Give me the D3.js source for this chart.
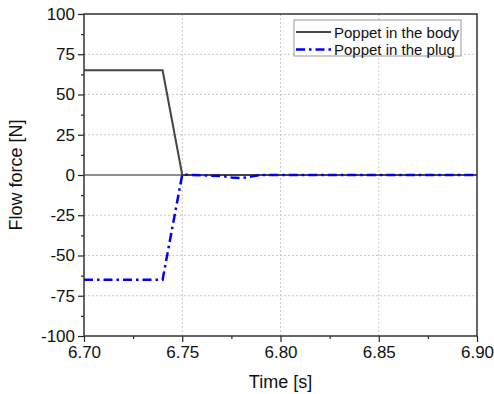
<!DOCTYPE html>
<html><head><meta charset="utf-8">
<script src="https://d3js.org/d3.v7.min.js"></script>
<style>body{margin:0;background:#fff}svg{display:block}</style>
</head><body>
<script>
const seriesNames = ["Poppet in the body", "Poppet in the plug"];
const bodyTime = [6.70, 6.74, 6.75, 6.90];
const bodyForce = [65, 65, 0, 0];
const plugTime = [6.70, 6.74, 6.75, 6.76, 6.77, 6.775, 6.78, 6.785, 6.79, 6.90];
const plugForce = [-65, -65, 0.3, -0.2, -0.6, -1.5, -2.0, -1.0, 0, 0];
const xTicks = [6.70, 6.75, 6.80, 6.85, 6.90];
const yTicks = [-100, -75, -50, -25, 0, 25, 50, 75, 100];

const W = 494, H = 394;
const m = {l: 84, r: 17, t: 14, b: 58};
const svg = d3.select("body").append("svg").attr("width", W).attr("height", H);
const x = d3.scaleLinear().domain([6.70, 6.90]).range([m.l, W - m.r]);
const y = d3.scaleLinear().domain([-100, 100]).range([H - m.b, m.t]);
const font = "Arial, 'Liberation Sans', sans-serif";

// grid
svg.append("g").selectAll("line").data(xTicks.slice(1, -1)).join("line")
  .attr("x1", d => x(d)).attr("x2", d => x(d)).attr("y1", m.t).attr("y2", H - m.b)
  .attr("stroke", "#c8c8c8").attr("stroke-dasharray", "2,2").attr("stroke-width", 1);
svg.append("g").selectAll("line").data(yTicks.slice(1, -1).filter(d => d !== 0)).join("line")
  .attr("y1", d => y(d)).attr("y2", d => y(d)).attr("x1", m.l).attr("x2", W - m.r)
  .attr("stroke", "#c8c8c8").attr("stroke-dasharray", "2,2").attr("stroke-width", 1);

// zero line
svg.append("line").attr("x1", m.l).attr("x2", W - m.r).attr("y1", y(0)).attr("y2", y(0))
  .attr("stroke", "#222").attr("stroke-width", 1.2);

// lines
const lineGen = d3.line().x(d => x(d[0])).y(d => y(d[1]));
svg.append("path").datum(bodyTime.map((t, i) => [t, bodyForce[i]]))
  .attr("d", lineGen).attr("fill", "none").attr("stroke", "#444").attr("stroke-width", 2);
svg.append("path").datum(plugTime.map((t, i) => [t, plugForce[i]]))
  .attr("d", lineGen).attr("fill", "none").attr("stroke", "#0000ff").attr("stroke-width", 2.5)
  .attr("stroke-dasharray", "9,4,2.5,4");

// axes
const xAxis = d3.axisBottom(x).tickValues(xTicks).tickFormat(d3.format(".2f")).tickSize(6).tickPadding(4);
const xMinor = d3.axisBottom(x).tickValues([6.725, 6.775, 6.825, 6.875]).tickFormat("").tickSize(3);
const yAxis = d3.axisLeft(y).tickValues(yTicks).tickFormat(d => d).tickSize(6).tickPadding(3);
const yMinor = d3.axisLeft(y).tickValues(d3.range(-87.5, 100, 25)).tickFormat("").tickSize(3);

function style(g) {
  g.select(".domain").remove();
  g.selectAll("line").attr("stroke", "#222").attr("stroke-width", 1.2);
  g.selectAll("text").attr("font-family", font).attr("font-size", 17).attr("fill", "#111");
}
svg.append("g").attr("transform", `translate(0,${H - m.b})`).call(xAxis).call(style);
svg.append("g").attr("transform", `translate(0,${H - m.b})`).call(xMinor).call(style);
svg.append("g").attr("transform", `translate(${m.l},0)`).call(yAxis).call(style);
svg.append("g").attr("transform", `translate(${m.l},0)`).call(yMinor).call(style);

// frame
svg.append("rect").attr("x", m.l).attr("y", m.t).attr("width", W - m.r - m.l).attr("height", H - m.b - m.t)
  .attr("fill", "none").attr("stroke", "#333").attr("stroke-width", 1.5);

// titles
svg.append("text").attr("x", x(6.80)).attr("y", 388).attr("text-anchor", "middle")
  .attr("font-family", font).attr("font-size", 18).attr("fill", "#111").text("Time [s]");
svg.append("text").attr("transform", `translate(22,${y(0)}) rotate(-90)`).attr("text-anchor", "middle")
  .attr("font-family", font).attr("font-size", 18).attr("fill", "#111").text("Flow force [N]");

// legend
const lg = svg.append("g");
lg.append("rect").attr("x", 294).attr("y", 20).attr("width", 167).attr("height", 36)
  .attr("fill", "#fff").attr("stroke", "#999").attr("stroke-width", 1);
const legColors = ["#444", "#0000ff"], legDash = [null, "9,4,2.5,4"], legW = [2, 2.5];
seriesNames.forEach((n, i) => {
  const yy = 32 + i * 17.5;
  lg.append("line").attr("x1", 296).attr("x2", 331).attr("y1", yy).attr("y2", yy)
    .attr("stroke", legColors[i]).attr("stroke-width", legW[i]).attr("stroke-dasharray", legDash[i]);
  lg.append("text").attr("x", 334).attr("y", yy + 5.5).attr("font-family", font).attr("font-size", 15)
    .attr("fill", "#111").text(n);
});
</script>
</body></html>
